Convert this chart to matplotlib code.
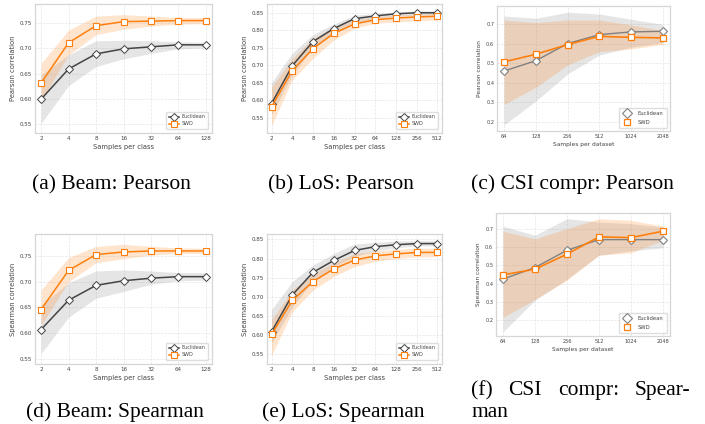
import matplotlib
matplotlib.use("Agg")
import matplotlib.pyplot as plt
from matplotlib.ticker import MultipleLocator, NullLocator

# ---- data ----
spc_beam = [2, 4, 8, 16, 32, 64, 128]
spc_los = [2, 4, 8, 16, 32, 64, 128, 256, 512]
spd_csi = [64, 128, 256, 512, 1024, 2048]

# (a) Beam: Pearson
beam_p_euc = [0.599, 0.659, 0.689, 0.699, 0.703, 0.707, 0.707]
beam_p_euc_lo = [0.551, 0.626, 0.664, 0.679, 0.690, 0.699, 0.701]
beam_p_euc_hi = [0.647, 0.687, 0.715, 0.716, 0.715, 0.713, 0.712]
beam_p_swd = [0.631, 0.711, 0.745, 0.753, 0.754, 0.755, 0.755]
beam_p_swd_lo = [0.596, 0.687, 0.727, 0.738, 0.744, 0.748, 0.749]
beam_p_swd_hi = [0.670, 0.736, 0.764, 0.767, 0.764, 0.761, 0.761]

# (b) LoS: Pearson
los_p_euc = [0.591, 0.699, 0.768, 0.805, 0.833, 0.841, 0.847, 0.850, 0.850]
los_p_euc_lo = [0.560, 0.673, 0.749, 0.791, 0.822, 0.834, 0.841, 0.843, 0.844]
los_p_euc_hi = [0.651, 0.735, 0.788, 0.818, 0.843, 0.848, 0.852, 0.855, 0.855]
los_p_swd = [0.582, 0.685, 0.748, 0.791, 0.818, 0.830, 0.835, 0.838, 0.840]
los_p_swd_lo = [0.528, 0.659, 0.720, 0.772, 0.806, 0.820, 0.824, 0.827, 0.829]
los_p_swd_hi = [0.638, 0.720, 0.777, 0.808, 0.829, 0.839, 0.843, 0.846, 0.848]

# (c) CSI compr: Pearson
csi_p_euc = [0.460, 0.513, 0.601, 0.647, 0.661, 0.664]
csi_p_euc_lo = [0.183, 0.306, 0.445, 0.542, 0.582, 0.606]
csi_p_euc_hi = [0.743, 0.731, 0.762, 0.753, 0.726, 0.700]
csi_p_swd = [0.507, 0.546, 0.596, 0.638, 0.633, 0.630]
csi_p_swd_lo = [0.289, 0.376, 0.491, 0.560, 0.573, 0.597]
csi_p_swd_hi = [0.722, 0.709, 0.722, 0.722, 0.697, 0.668]

# (d) Beam: Spearman
beam_s_euc = [0.607, 0.664, 0.693, 0.702, 0.707, 0.710, 0.710]
beam_s_euc_lo = [0.560, 0.631, 0.668, 0.681, 0.695, 0.702, 0.703]
beam_s_euc_hi = [0.654, 0.698, 0.721, 0.723, 0.721, 0.718, 0.718]
beam_s_swd = [0.646, 0.722, 0.753, 0.758, 0.760, 0.760, 0.760]
beam_s_swd_lo = [0.615, 0.700, 0.737, 0.745, 0.752, 0.755, 0.755]
beam_s_swd_hi = [0.684, 0.747, 0.769, 0.773, 0.769, 0.766, 0.765]

# (e) LoS: Spearman
los_s_euc = [0.609, 0.705, 0.764, 0.795, 0.821, 0.831, 0.836, 0.839, 0.839]
los_s_euc_lo = [0.580, 0.674, 0.742, 0.779, 0.805, 0.820, 0.828, 0.833, 0.833]
los_s_euc_hi = [0.667, 0.740, 0.783, 0.813, 0.838, 0.842, 0.846, 0.846, 0.847]
los_s_swd = [0.602, 0.691, 0.740, 0.773, 0.796, 0.807, 0.812, 0.816, 0.816]
los_s_swd_lo = [0.548, 0.661, 0.718, 0.753, 0.779, 0.793, 0.800, 0.804, 0.805]
los_s_swd_hi = [0.640, 0.718, 0.761, 0.789, 0.813, 0.820, 0.824, 0.827, 0.827]

# (f) CSI compr: Spearman
csi_s_euc = [0.425, 0.488, 0.582, 0.640, 0.640, 0.640]
csi_s_euc_lo = [0.138, 0.310, 0.425, 0.555, 0.579, 0.595]
csi_s_euc_hi = [0.713, 0.664, 0.754, 0.736, 0.727, 0.709]
csi_s_swd = [0.448, 0.479, 0.561, 0.655, 0.651, 0.686]
csi_s_swd_lo = [0.216, 0.314, 0.419, 0.555, 0.568, 0.637]
csi_s_swd_hi = [0.686, 0.644, 0.700, 0.754, 0.745, 0.714]

W, H = 705, 424
ORANGE = "#ff7f0e"
TXT = "#444444"

fig = plt.figure(figsize=(W / 100, H / 100), dpi=100)


def px_axes(x0, y0, x1, y1):
    return fig.add_axes([x0 / W, 1 - y1 / H, (x1 - x0) / W, (y1 - y0) / H])


def style(ax, x, ylim, ystep, xlabel, ylabel, small=False):
    ax.set_xscale("log", base=2)
    ax.set_xticks(x)
    ax.set_xticklabels([str(v) for v in x])
    ax.xaxis.set_minor_locator(NullLocator())
    m = 2 ** 0.22
    ax.set_xlim(x[0] / m, x[-1] * m)
    ax.set_ylim(*ylim)
    ax.yaxis.set_major_locator(MultipleLocator(ystep))
    tick_fs = 3.6 if small else 4.1
    lab_fs = 4.2 if small else 4.85
    ax.tick_params(length=0, pad=2, labelsize=tick_fs, colors=TXT)
    ax.set_xlabel(xlabel, fontsize=lab_fs, color=TXT, labelpad=2.5)
    ax.set_ylabel(ylabel, fontsize=lab_fs, color=TXT, labelpad=3)
    ax.grid(True, color="#e4e4e4", linestyle="--", linewidth=0.5)
    ax.set_axisbelow(True)
    for s in ax.spines.values():
        s.set_color("#d6d6d6")
        s.set_linewidth(0.9)


def draw(ax, x, euc, euc_lo, euc_hi, swd, swd_lo, swd_hi, csi=False):
    ax.fill_between(x, euc_lo, euc_hi, color="gray", alpha=0.2, linewidth=0)
    ax.fill_between(x, swd_lo, swd_hi, color=ORANGE, alpha=0.2, linewidth=0)
    if csi:
        ax.plot(x, euc, color="#808080", lw=1.0, marker="D", ms=4.4,
                mfc="white", mec="#808080", mew=0.8)
        ax.plot(x, swd, color=ORANGE, lw=1.2, marker="s", ms=4.4,
                mfc="white", mec=ORANGE, mew=0.9)
        h1, = ax.plot([], [], ls="none", marker="D", ms=4.6, mfc="white",
                      mec="#808080", mew=0.8)
        h2, = ax.plot([], [], ls="none", marker="s", ms=4.6, mfc="white",
                      mec=ORANGE, mew=0.9)
        ax.legend([h1, h2], ["Euclidean", "SWD"], loc="lower right",
                  fontsize=3.8, frameon=True, edgecolor="#d6d6d6",
                  borderpad=0.6, labelspacing=0.7, handletextpad=1.0,
                  borderaxespad=0.6, labelcolor=TXT)
    else:
        ax.plot(x, euc, color="#444444", lw=1.1, marker="D", ms=4.4,
                mfc="white", mec="#444444", mew=0.7, label="Euclidean")
        ax.plot(x, swd, color=ORANGE, lw=1.1, marker="s", ms=4.1,
                mfc="white", mec=ORANGE, mew=0.8, label="SWD")
        ax.legend(loc="lower right", fontsize=3.5, frameon=True,
                  edgecolor="#d6d6d6", borderpad=0.55, labelspacing=0.45,
                  handlelength=2.0, handletextpad=0.6, borderaxespad=0.8,
                  labelcolor=TXT)


ax_a = px_axes(35, 4, 212, 133)
draw(ax_a, spc_beam, beam_p_euc, beam_p_euc_lo, beam_p_euc_hi,
     beam_p_swd, beam_p_swd_lo, beam_p_swd_hi)
style(ax_a, spc_beam, (0.532, 0.788), 0.05, "Samples per class", "Pearson correlation")

ax_b = px_axes(267, 4, 442, 133)
draw(ax_b, spc_los, los_p_euc, los_p_euc_lo, los_p_euc_hi,
     los_p_swd, los_p_swd_lo, los_p_swd_hi)
style(ax_b, spc_los, (0.507, 0.875), 0.05, "Samples per class", "Pearson correlation")

ax_c = px_axes(497, 6, 670, 131)
draw(ax_c, spd_csi, csi_p_euc, csi_p_euc_lo, csi_p_euc_hi,
     csi_p_swd, csi_p_swd_lo, csi_p_swd_hi, csi=True)
style(ax_c, spd_csi, (0.152, 0.794), 0.1, "Samples per dataset", "Pearson correlation", small=True)

ax_d = px_axes(35, 234, 212, 364)
draw(ax_d, spc_beam, beam_s_euc, beam_s_euc_lo, beam_s_euc_hi,
     beam_s_swd, beam_s_swd_lo, beam_s_swd_hi)
style(ax_d, spc_beam, (0.540, 0.793), 0.05, "Samples per class", "Spearman correlation")

ax_e = px_axes(267, 234, 442, 364)
draw(ax_e, spc_los, los_s_euc, los_s_euc_lo, los_s_euc_hi,
     los_s_swd, los_s_swd_lo, los_s_swd_hi)
style(ax_e, spc_los, (0.525, 0.864), 0.05, "Samples per class", "Spearman correlation")

ax_f = px_axes(496, 213, 670, 336)
draw(ax_f, spd_csi, csi_s_euc, csi_s_euc_lo, csi_s_euc_hi,
     csi_s_swd, csi_s_swd_lo, csi_s_swd_hi, csi=True)
style(ax_f, spd_csi, (0.115, 0.785), 0.1, "Samples per dataset", "Spearman correlation", small=True)

# ---- captions (serif, like the paper) ----
cap = dict(fontsize=15.5, family="Liberation Serif", va="baseline", color="black")


def caption(x, y, s, ha="left"):
    fig.text(x / W, 1 - y / H, s, ha=ha, **cap)


caption(32, 189, "(a) Beam: Pearson")
caption(268, 189, "(b) LoS: Pearson")
caption(471, 189, "(c) CSI compr: Pearson")
caption(26, 417, "(d) Beam: Spearman")
caption(262, 417, "(e) LoS: Spearman")
# the broken (f) caption line is justified word by word
caption(471, 395, "(f)")
caption(508, 395, "CSI")
caption(558, 395, "compr:")
caption(690, 395, "Spear-", ha="right")
caption(471, 417, "man")

fig.savefig("out.png", dpi=100)
